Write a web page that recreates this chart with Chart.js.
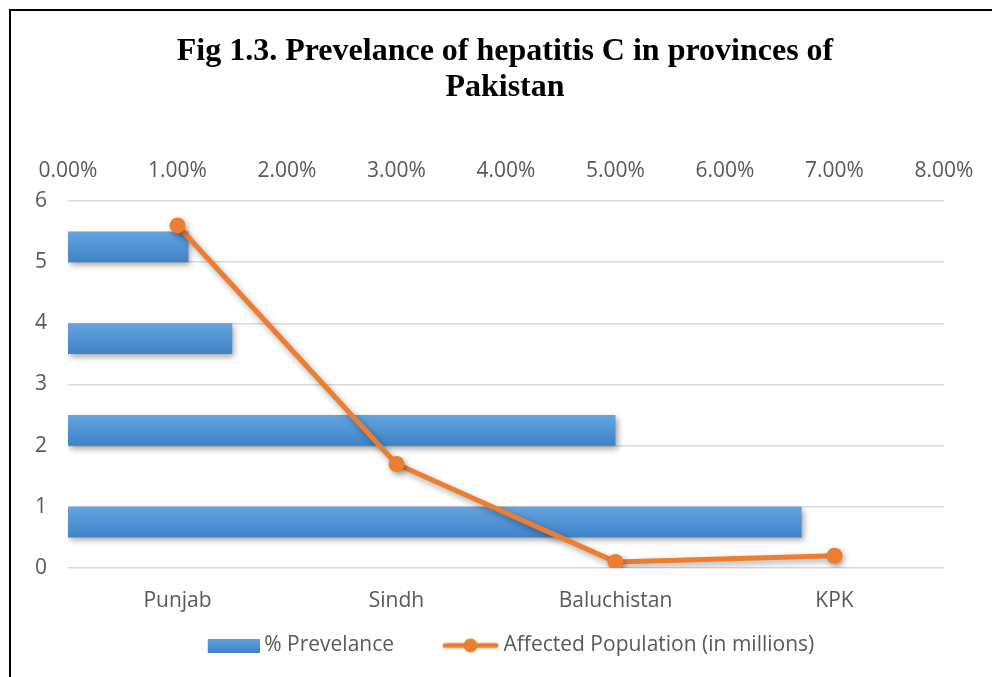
<!DOCTYPE html>
<html>
<head>
<meta charset="utf-8">
<title>Prevelance of hepatitis C in provinces of Pakistan</title>
<script src="https://cdn.jsdelivr.net/npm/chart.js@4.4.1/dist/chart.umd.min.js"></script>
<style>
  html, body { margin: 0; padding: 0; background: #fff; }
  #wrap { position: relative; width: 992px; height: 677px; overflow: hidden; }
  #chart { position: absolute; left: 18px; top: 0; }
  /* black frame: only top and left edges show in the picture */
  #frame { position: absolute; left: 9px; top: 9px; right: -4px; bottom: -4px;
           border-top: 2px solid #000; border-left: 2px solid #000; pointer-events: none; }
</style>
</head>
<body>
<div id="wrap">
  <canvas id="chart" width="974" height="677"></canvas>
  <div id="frame"></div>
</div>
<script>
// data
const provinces = ['Punjab', 'Sindh', 'Baluchistan', 'KPK'];
const prevalencePct = [6.7, 5.0, 1.5, 1.1];        // % Prevelance (top axis)
const affectedMillions = [5.6, 1.7, 0.1, 0.2];     // Affected Population (left axis)
const pctMin = 0, pctMax = 8;
const popMin = 0, popMax = 6;

const BLUE_TOP = '#64a3de';
const BLUE_BOTTOM = '#3f83c8';
const ORANGE = '#ED7D31';
const TEXT = '#595959';
const BAR_PCT = 0.333;
const LEGEND_BOX = 78;

const tickFont = { family: 'Open Sans', size: 21 };

// vertical gradient for each horizontal bar
function barFill(ctx) {
  const chart = ctx.chart;
  const s = chart.scales.yCat;
  if (!s || ctx.dataIndex === undefined) return '#5B9BD5';
  const c = s.getPixelForValue(ctx.dataIndex);
  const half = Math.abs(s.getPixelForValue(1) - s.getPixelForValue(0)) * BAR_PCT / 2;
  const g = chart.ctx.createLinearGradient(0, c - half, 0, c + half);
  g.addColorStop(0, BLUE_TOP);
  g.addColorStop(1, BLUE_BOTTOM);
  return g;
}

// legend swatches, drawn against the right edge so the text sits close to them
function makeBarSwatch() {
  const c = document.createElement('canvas');
  c.width = LEGEND_BOX + 12; c.height = 14;
  const x = c.getContext('2d');
  const g = x.createLinearGradient(0, 0, 0, 14);
  g.addColorStop(0, BLUE_TOP);
  g.addColorStop(1, BLUE_BOTTOM);
  x.fillStyle = g;
  x.fillRect(c.width - 52, 0, 52, 14);
  return c;
}
function makeLineSwatch() {
  const c = document.createElement('canvas');
  c.width = LEGEND_BOX + 12; c.height = 16;
  const x = c.getContext('2d');
  const x0 = c.width - 57;
  x.strokeStyle = ORANGE;
  x.lineWidth = 5;
  x.lineCap = 'round';
  x.beginPath(); x.moveTo(x0 + 3, 8); x.lineTo(c.width - 3, 8); x.stroke();
  x.fillStyle = ORANGE;
  x.beginPath(); x.arc(x0 + 28.5, 8, 7, 0, Math.PI * 2); x.fill();
  return c;
}
const barSwatch = makeBarSwatch();
const lineSwatch = makeLineSwatch();

// soft drop shadow like the office style
const shadowPlugin = {
  id: 'shadow',
  beforeDatasetDraw(chart) {
    const c = chart.ctx;
    c.save();
    c.shadowColor = 'rgba(0,0,0,0.35)';
    c.shadowBlur = 6;
    c.shadowOffsetX = 2;
    c.shadowOffsetY = 3;
  },
  afterDatasetDraw(chart) {
    chart.ctx.restore();
  }
};

// the legend in the original sits a little left of centre
const legendNudge = {
  id: 'legendNudge',
  afterLayout(chart) {
    chart.legend.left -= 10;
    chart.legend.right -= 10;
  }
};

new Chart(document.getElementById('chart'), {
  data: {
    labels: provinces,
    datasets: [
      {
        type: 'bar',
        label: '% Prevelance',
        indexAxis: 'y',
        xAxisID: 'xTop',
        yAxisID: 'yCat',
        data: prevalencePct,
        backgroundColor: barFill,
        borderWidth: 0,
        grouped: false,
        barPercentage: BAR_PCT,
        categoryPercentage: 1,
        order: 2
      },
      {
        type: 'line',
        label: 'Affected Population (in millions)',
        xAxisID: 'x',
        yAxisID: 'y',
        data: affectedMillions,
        borderColor: ORANGE,
        backgroundColor: ORANGE,
        borderWidth: 5,
        borderCapStyle: 'round',
        borderJoinStyle: 'round',
        tension: 0,
        pointRadius: 8,
        pointBorderWidth: 0,
        pointBackgroundColor: ORANGE,
        order: 1
      }
    ]
  },
  options: {
    responsive: false,
    animation: false,
    events: [],
    layout: { padding: { top: 16, right: 0, bottom: 11, left: 0 } },
    scales: {
      x: {
        type: 'category',
        position: 'bottom',
        offset: true,
        grid: { display: false },
        border: { display: false },
        ticks: { color: TEXT, font: tickFont, padding: 12 },
        afterFit: s => { s.height = 46; }
      },
      y: {
        type: 'linear',
        position: 'left',
        min: popMin,
        max: popMax,
        ticks: { stepSize: 1, color: TEXT, font: tickFont, padding: 21 },
        grid: { color: '#d9d9d9', lineWidth: 1.5, drawTicks: false },
        border: { display: false },
        afterFit: s => { s.width = 50; }
      },
      xTop: {
        type: 'linear',
        axis: 'x',
        position: 'top',
        min: pctMin,
        max: pctMax,
        grid: { display: false },
        border: { display: false },
        ticks: {
          stepSize: 1,
          color: TEXT,
          font: tickFont,
          padding: 9,
          callback: v => v.toFixed(2) + '%'
        },
        afterFit: s => { s.height = 85; }
      },
      yCat: {
        type: 'category',
        axis: 'y',
        position: 'left',
        reverse: true,
        offset: true,
        display: false
      },
      // empty right-hand spacer so the plot ends where the original does
      ySpace: {
        type: 'linear',
        axis: 'y',
        position: 'right',
        grid: { display: false },
        border: { display: false },
        ticks: { display: false },
        afterFit: s => { s.width = 48; }
      }
    },
    plugins: {
      title: {
        display: true,
        text: ['Fig 1.3. Prevelance of hepatitis C in provinces of', 'Pakistan'],
        color: '#000',
        font: { family: 'Liberation Serif', size: 32, weight: 'bold', lineHeight: 1.125 },
        padding: { top: 18, bottom: 10 }
      },
      legend: {
        position: 'bottom',
        labels: {
          usePointStyle: true,
          pointStyleWidth: LEGEND_BOX,
          boxHeight: 14,
          padding: 21,
          color: TEXT,
          font: { family: 'Open Sans', size: 21 },
          generateLabels: () => [
            { text: '% Prevelance', pointStyle: barSwatch, fontColor: TEXT,
              fillStyle: BLUE_TOP, strokeStyle: 'transparent', lineWidth: 0, hidden: false, datasetIndex: 0 },
            { text: 'Affected Population (in millions)', pointStyle: lineSwatch, fontColor: TEXT,
              fillStyle: ORANGE, strokeStyle: 'transparent', lineWidth: 0, hidden: false, datasetIndex: 1 }
          ]
        }
      },
      tooltip: { enabled: false }
    }
  },
  plugins: [shadowPlugin, legendNudge]
});
</script>
</body>
</html>
